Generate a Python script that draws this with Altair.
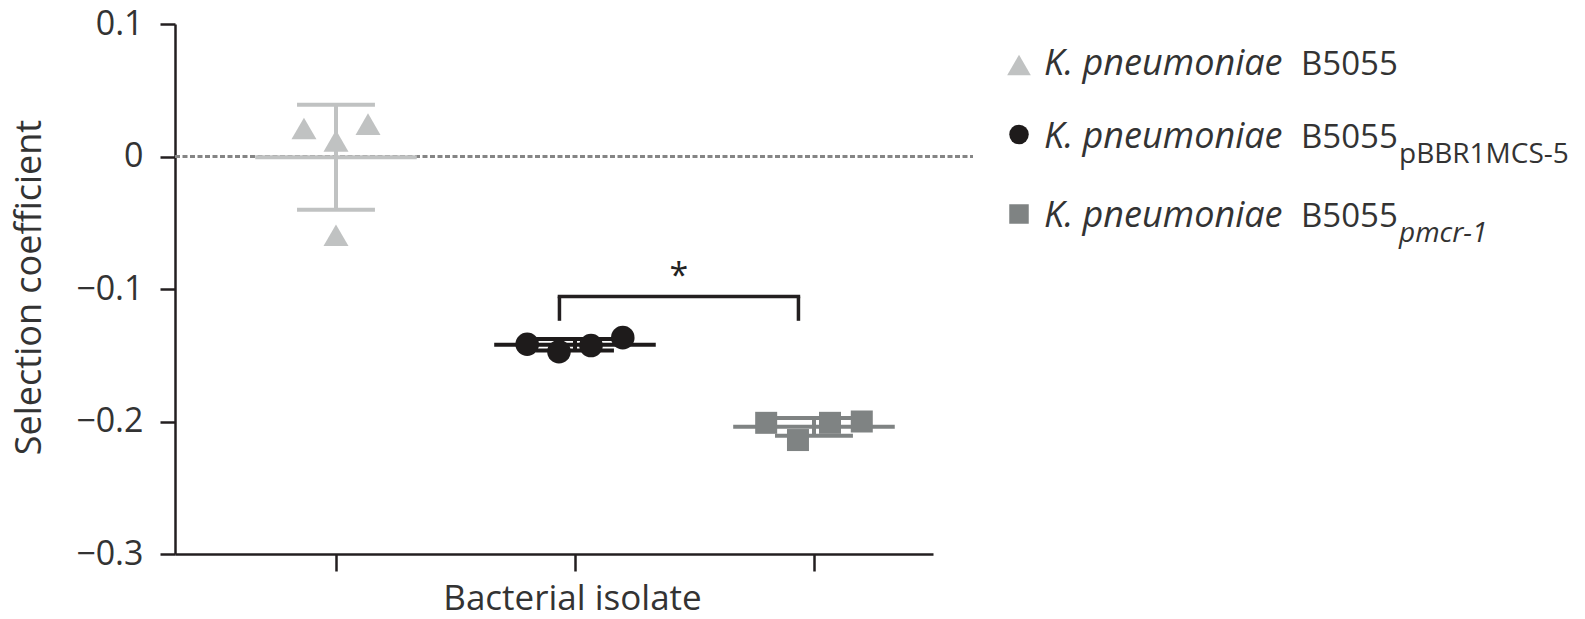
import altair as alt
import pandas as pd

# ---- data -------------------------------------------------------------
strains = ["B5055", "B5055 pBBR1MCS-5", "B5055 pmcr-1"]
strain_pos = [1, 2, 3]
sc_b5055 = [0.0211, 0.0244, 0.0118, -0.0594]
sc_pbbr = [-0.1417, -0.1473, -0.1427, -0.1367]
sc_pmcr = [-0.201, -0.214, -0.201, -0.200]
y_ticks = [-0.3, -0.2, -0.1, 0, 0.1]

legend_italic = "K. pneumoniae"
legend_strain = "B5055"
legend_sub = ["", "pBBR1MCS-5", "pmcr-1"]

# ---- styling -----------------------------------------------------------
colors = ["#c0c2c2", "#1e1b1b", "#7f8383"]
shapes = ["triangle-up", "circle", "square"]
sizes = [625, 484, 529]
jitter = [[-0.134, 0.134, 0.0, 0.0],
          [-0.2, -0.067, 0.067, 0.2],
          [-0.2, -0.067, 0.067, 0.2]]
AX = "#231f20"
TXT = "#333333"
FONT = "Open Sans"
W, H = 758, 530

# ---- tables -----------------------------------------------------------
rows = []
for s, pos, vals, offs in zip(strains, strain_pos, [sc_b5055, sc_pbbr, sc_pmcr], jitter):
    for v, o in zip(vals, offs):
        rows.append({"strain": s, "x": pos + o, "value": v})
points = pd.DataFrame(rows)

summ = points.groupby("strain", sort=False)["value"].agg(["mean", "std"]).reset_index()
summ["pos"] = strain_pos
summ["lo"] = summ["mean"] - summ["std"]
summ["hi"] = summ["mean"] + summ["std"]
summ["ml"] = summ["pos"] - 0.338
summ["mr"] = summ["pos"] + 0.338
summ["cl"] = summ["pos"] - 0.163
summ["cr"] = summ["pos"] + 0.163

xscale = alt.Scale(domain=[0.3264, 3.498], nice=False, zero=False)
yscale = alt.Scale(domain=[-0.3, 0.1], nice=False, zero=False)
cscale = alt.Scale(domain=strains, range=colors)
sscale = alt.Scale(domain=strains, range=shapes)

x_axis = alt.Axis(values=strain_pos, labels=False, grid=False, tickSize=17,
                  tickWidth=2.5, tickColor=AX, domainColor=AX, domainWidth=2.5,
                  title="Bacterial isolate", titleFontSize=35, titleFontWeight="normal",
                  titleColor=TXT, titleX=397, titleY=55, titleAlign="center",
                  titleBaseline="alphabetic")
y_axis = alt.Axis(values=y_ticks, format="~g", grid=False, tickSize=15, tickWidth=2.5,
                  tickColor=AX, domainColor=AX, domainWidth=2.5, labelFontSize=34,
                  labelColor=TXT, labelPadding=17, title="Selection coefficient",
                  titleFontSize=36, titleFontWeight="normal", titleColor=TXT,
                  titleX=-135, titleY=263, titleAngle=270, titleAlign="center",
                  titleBaseline="alphabetic")

# dotted zero reference line
zero = alt.Chart(pd.DataFrame({"v": [0]})).mark_rule(
    color="#858585", strokeWidth=3, strokeDash=[5, 2.5]
).encode(
    x=alt.value(0), x2=alt.value(798),
    y=alt.Y("v:Q", scale=yscale, axis=y_axis),
)

base = alt.Chart(summ)
mean_line = base.mark_rule(strokeWidth=4).encode(
    x=alt.X("ml:Q", scale=xscale, axis=x_axis), x2="mr:Q",
    y=alt.Y("mean:Q", scale=yscale),
    color=alt.Color("strain:N", scale=cscale, legend=None),
)
sd_stem = base.mark_rule(strokeWidth=4).encode(
    x=alt.X("pos:Q", scale=xscale), y=alt.Y("lo:Q", scale=yscale), y2="hi:Q",
    color=alt.Color("strain:N", scale=cscale, legend=None),
)
cap_hi = base.mark_rule(strokeWidth=4).encode(
    x=alt.X("cl:Q", scale=xscale), x2="cr:Q", y=alt.Y("hi:Q", scale=yscale),
    color=alt.Color("strain:N", scale=cscale, legend=None),
)
cap_lo = base.mark_rule(strokeWidth=4).encode(
    x=alt.X("cl:Q", scale=xscale), x2="cr:Q", y=alt.Y("lo:Q", scale=yscale),
    color=alt.Color("strain:N", scale=cscale, legend=None),
)

pts = alt.Chart(points).mark_point(filled=True, opacity=1, strokeWidth=0).encode(
    x=alt.X("x:Q", scale=xscale), y=alt.Y("value:Q", scale=yscale),
    color=alt.Color("strain:N", scale=cscale, legend=None),
    shape=alt.Shape("strain:N", scale=sscale, legend=None),
    size=alt.Size("strain:N", scale=alt.Scale(domain=strains, range=sizes), legend=None),
)

# significance bracket between the two plasmid-carrying strains
br_left, br_right, br_top, br_foot = 1.935, 2.935, -0.1057, -0.124
bracket_h = alt.Chart(pd.DataFrame({"a": [br_left], "b": [br_right], "y": [br_top]})).mark_rule(
    color=AX, strokeWidth=3.5, strokeCap="square"
).encode(x=alt.X("a:Q", scale=xscale), x2="b:Q", y=alt.Y("y:Q", scale=yscale))
bracket_v = alt.Chart(pd.DataFrame({"x": [br_left, br_right], "y": [br_top] * 2,
                                    "y2": [br_foot] * 2})).mark_rule(
    color=AX, strokeWidth=3.5
).encode(x=alt.X("x:Q", scale=xscale), y=alt.Y("y:Q", scale=yscale), y2="y2:Q")
star = alt.Chart(pd.DataFrame({"x": [(br_left + br_right) / 2], "y": [-0.0985], "t": ["*"]})).mark_text(
    fontSize=34, color="#222222", font=FONT, baseline="alphabetic", align="center"
).encode(x=alt.X("x:Q", scale=xscale), y=alt.Y("y:Q", scale=yscale), text="t:N")

# legend drawn beside the plot
legend_layers = []
sym_y = [41, 110.5, 190]
base_y = [51, 124, 203]
leg_sizes = [560, 380, 380]
for i in range(3):
    one = alt.Chart(pd.DataFrame({"strain": [strains[i]], "it": [legend_italic],
                                  "rg": [legend_strain], "sb": [legend_sub[i]]}))
    legend_layers.append(one.mark_point(
        shape=shapes[i], filled=True, opacity=1, strokeWidth=0, color=colors[i],
        size=leg_sizes[i]).encode(x=alt.value(844), y=alt.value(sym_y[i])))
    legend_layers.append(one.mark_text(
        fontSize=36, fontStyle="italic", color=TXT, font=FONT, align="left",
        baseline="alphabetic").encode(x=alt.value(869), y=alt.value(base_y[i]), text="it:N"))
    legend_layers.append(one.mark_text(
        fontSize=33, color=TXT, font=FONT, align="left",
        baseline="alphabetic").encode(x=alt.value(1126), y=alt.value(base_y[i]), text="rg:N"))
    if legend_sub[i]:
        legend_layers.append(one.mark_text(
            fontSize=28, color=TXT, font=FONT, align="left", baseline="alphabetic",
            fontStyle="italic" if i == 2 else "normal").encode(
            x=alt.value(1224), y=alt.value(base_y[i] + 15), text="sb:N"))

chart = alt.layer(
    zero, mean_line, sd_stem, cap_hi, cap_lo, pts, bracket_h, bracket_v, star, *legend_layers
).properties(
    width=W, height=H,
    autosize=alt.AutoSizeParams(type="none"),
    padding={"left": 175, "top": 24, "right": 652, "bottom": 65},
).configure(font=FONT).configure_view(strokeWidth=0)

chart.save("out.html", embed_options={"renderer": "svg", "actions": False})
